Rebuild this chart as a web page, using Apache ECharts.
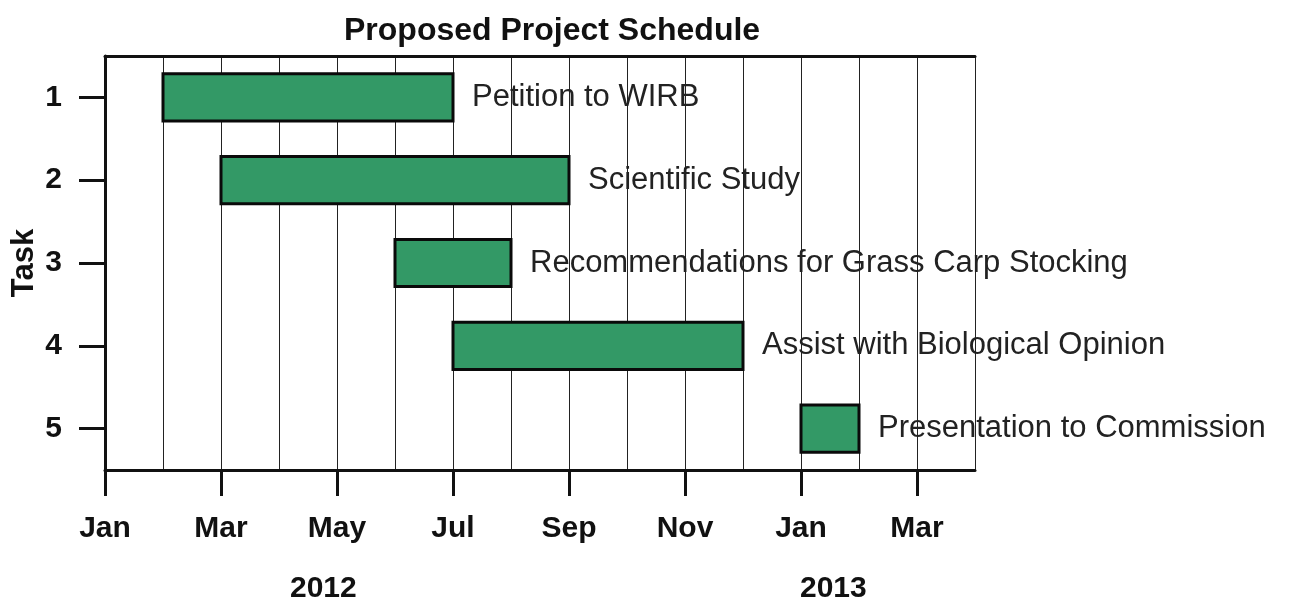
<!DOCTYPE html>
<html>
<head>
<meta charset="utf-8">
<script src="https://cdn.jsdelivr.net/npm/echarts@6/dist/echarts.min.js"></script>
<style>html,body{margin:0;padding:0;background:#fff;}#c{width:1295px;height:604px;}</style>
</head>
<body>
<div id="c"></div>
<script>
// Months counted from Jan 2012 (0 = Jan 2012)
const taskIds = ['1', '2', '3', '4', '5'];
const taskNames = ['Petition to WIRB', 'Scientific Study', 'Recommendations for Grass Carp Stocking', 'Assist with Biological Opinion', 'Presentation to Commission'];
const taskStart = [1, 2, 5, 6, 12];
const taskEnd = [6, 8, 7, 11, 13];
const monthLabels = ['Jan','Feb','Mar','Apr','May','Jun','Jul','Aug','Sep','Oct','Nov','Dec','Jan','Feb','Mar','Apr'];
const labelMonths = [0, 2, 4, 6, 8, 10, 12, 14];
const yearLabels = ['2012', '2013'];

const FONT = "'Liberation Sans', Arial, Helvetica, sans-serif";
const chart = echarts.init(document.getElementById('c'));
const data = taskIds.map((t, i) => [taskStart[i], taskEnd[i], i, taskNames[i]]);

chart.setOption({
  animation: false,
  backgroundColor: '#fff',
  title: {
    text: 'Proposed Project Schedule',
    left: 339, top: 10,
    textStyle: { fontFamily: FONT, fontSize: 32, fontWeight: 'bold', color: '#111' }
  },
  grid: { left: 105, right: 320, top: 56, bottom: 134, containLabel: false, outerBoundsMode: 'none' },
  xAxis: [{
    type: 'value', min: 0, max: 15, interval: 1, position: 'bottom',
    axisLine: { show: true, onZero: false, lineStyle: { color: '#111', width: 3 } },
    axisTick: { show: true, customValues: labelMonths, length: 26, lineStyle: { color: '#111', width: 3 } },
    axisLabel: {
      customValues: labelMonths, margin: 44,
      formatter: v => monthLabels[Math.round(v)] || '',
      fontFamily: FONT, fontSize: 30, fontWeight: 'bold', color: '#111'
    },
    splitLine: { show: false }
  }, {
    type: 'value', min: 0, max: 15, interval: 1, position: 'top',
    axisLine: { show: true, onZero: false, lineStyle: { color: '#111', width: 3 } },
    axisTick: { show: false }, axisLabel: { show: false },
    splitLine: { show: true, lineStyle: { color: '#222', width: 1 } }
  }],
  yAxis: [{
    type: 'category', data: taskIds, inverse: true,
    name: 'Task', nameLocation: 'middle', nameGap: 65, nameMoveOverlap: false,
    nameTextStyle: { fontFamily: FONT, fontSize: 31, fontWeight: 'bold', color: '#111' },
    axisLine: { show: true, onZero: false, lineStyle: { color: '#111', width: 3 } },
    axisTick: { show: true, alignWithLabel: true, length: 26, lineStyle: { color: '#111', width: 3 } },
    axisLabel: { margin: 43, fontFamily: FONT, fontSize: 30, fontWeight: 'bold', color: '#111' },
    splitLine: { show: false }
  }, {
    type: 'category', data: taskIds, inverse: true, position: 'right',
    axisLine: { show: true, onZero: false, lineStyle: { color: '#222', width: 1 } },
    axisTick: { show: false }, axisLabel: { show: false }, splitLine: { show: false }
  }],
  graphic: [
    { type: 'text', left: 290, top: 574, style: { text: yearLabels[0], font: "bold 30px " + FONT, fill: '#111' } },
    { type: 'text', left: 800, top: 574, style: { text: yearLabels[1], font: "bold 30px " + FONT, fill: '#111' } }
  ],
  series: [{
    type: 'custom',
    xAxisIndex: 0, yAxisIndex: 0,
    data: data,
    encode: { x: [0, 1], y: 2 },
    renderItem: function (params, api) {
      const s = api.coord([api.value(0), api.value(2)]);
      const e = api.coord([api.value(1), api.value(2)]);
      const h = api.size([0, 1])[1] * 0.57;
      return {
        type: 'group',
        children: [{
          type: 'rect',
          shape: { x: s[0], y: s[1] - h / 2, width: e[0] - s[0], height: h },
          style: { fill: '#339966', stroke: '#0a0a0a', lineWidth: 3 }
        }, {
          type: 'text',
          style: {
            x: e[0] + 19, y: s[1], text: api.value(3),
            font: '31px ' + FONT, fill: '#222', textVerticalAlign: 'middle', textAlign: 'left'
          }
        }]
      };
    }
  }]
});
</script>
</body>
</html>
